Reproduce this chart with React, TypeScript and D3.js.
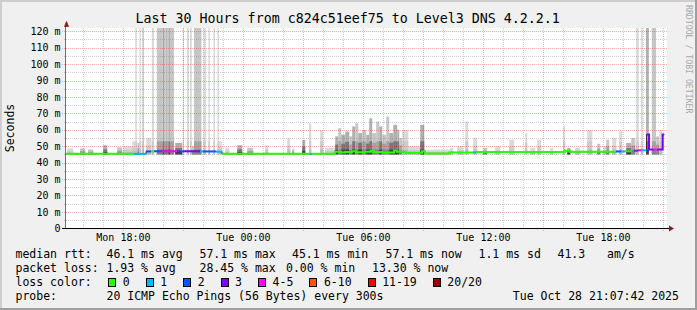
import React from 'react';
import * as d3 from 'd3';

// ---------- data ----------
const startHour = 15 + 7 / 60 + 42 / 3600; // Mon 15:07:42 (hours since Mon 00:00)
const endHour = startHour + 30;

const yTickValues = [0, 10, 20, 30, 40, 50, 60, 70, 80, 90, 100, 110, 120];
const yMinorValues = [5, 15, 25, 35, 45, 55, 65, 75, 85, 95, 105, 115];
const xLabelHours = [18, 24, 30, 36, 42];
const xLabelTexts = ['Mon 18:00', 'Tue 00:00', 'Tue 06:00', 'Tue 12:00', 'Tue 18:00'];

const lossColors = ['#26ff00', '#00b8ff', '#0059ff', '#7e00ff', '#ff00ff', '#ff5500', '#ff0000', '#a10000'];
const lossLabels = ['0', '1', '2', '3', '4-5', '6-10', '11-19', '20/20'];

// smoke columns whose max exceeds the graph: [start h, end h, tone]
const tallBars: [number, number, number][] = [
  [18.59, 18.67, 0], [18.8, 18.87, 0], [18.92, 19.03, 0], [19.42, 19.53, 0],
  [19.67, 19.97, 1], [19.97, 20.03, 2], [20.03, 20.12, 1], [20.12, 20.17, 2],
  [20.17, 20.25, 1], [20.25, 20.33, 2], [20.33, 20.53, 1],
  [20.97, 21.03, 0], [21.17, 21.28, 0], [21.33, 21.42, 0], [21.53, 21.9, 1],
  [22.0, 22.13, 0], [22.25, 22.33, 0], [22.5, 22.58, 0], [22.7, 22.78, 0],
  [43.63, 43.77, 0], [43.87, 43.97, 0], [44.13, 44.27, 2], [44.42, 44.63, 1],
];

// smoke spikes: [start h, end h, max ms, tone]
const smokeSpikes: [number, number, number, number][] = [
  [15.18, 15.49, 48.7, 0], [15.83, 16.09, 48.7, 1], [16.23, 16.49, 48.0, 1],
  [16.99, 17.19, 50.6, 2], [17.69, 17.94, 49.3, 1], [17.99, 18.44, 50.0, 0],
  [18.44, 18.59, 53.0, 0], [18.7, 18.8, 52.0, 1], [19.14, 19.39, 55.0, 0],
  [20.59, 20.94, 52.0, 2], [21.42, 21.53, 50.0, 1], [22.79, 22.94, 53.0, 0],
  [23.09, 23.29, 49.0, 0], [23.69, 23.94, 50.6, 2], [24.19, 24.49, 49.0, 1],
  [25.09, 25.24, 50.7, 0], [26.19, 26.34, 54.8, 0], [26.44, 26.54, 48.5, 1],
  [26.94, 27.09, 53.8, 2], [27.28, 27.39, 64.0, 0], [27.84, 27.99, 59.9, 0],
  [28.08, 28.59, 49.0, 0],
  [28.59, 28.74, 56.0, 2], [28.74, 28.89, 61.0, 1], [28.89, 29.09, 57.0, 2],
  [29.09, 29.29, 59.0, 2], [29.29, 29.44, 56.0, 1], [29.44, 29.59, 62.0, 2],
  [29.59, 29.74, 64.0, 1], [29.74, 29.94, 58.0, 2], [29.94, 30.14, 60.0, 1],
  [30.14, 30.29, 57.0, 2], [30.29, 30.44, 67.0, 2], [30.44, 30.64, 58.0, 1],
  [30.64, 30.79, 65.0, 1], [30.79, 30.94, 62.0, 2], [30.94, 31.14, 57.0, 1],
  [31.14, 31.29, 68.0, 1], [31.29, 31.49, 58.0, 2], [31.49, 31.69, 63.0, 2],
  [31.69, 31.79, 60.0, 2], [31.79, 31.94, 55.0, 1], [31.94, 32.24, 60.0, 0],
  [32.24, 32.84, 50.0, 0], [32.84, 33.04, 63.0, 2], [33.14, 34.34, 48.0, 0],
  [34.34, 34.49, 49.0, 0], [34.69, 34.99, 50.0, 0], [35.09, 35.24, 65.0, 0],
  [35.49, 35.69, 55.0, 0], [35.99, 36.19, 49.0, 1], [36.59, 36.84, 50.0, 0],
  [37.29, 37.54, 54.0, 0], [38.09, 38.19, 58.0, 0], [38.34, 38.59, 49.0, 0],
  [38.69, 38.89, 54.0, 0], [39.34, 39.49, 48.9, 0], [39.99, 40.09, 62.0, 0],
  [40.19, 40.34, 49.0, 2], [40.59, 40.84, 49.0, 0], [41.19, 41.44, 59.9, 0],
  [41.69, 41.84, 51.5, 1], [41.99, 42.14, 50.0, 0], [42.14, 42.29, 54.0, 1],
  [42.44, 42.64, 55.0, 0], [42.79, 42.94, 59.0, 0], [43.14, 43.39, 52.0, 2],
  [43.39, 43.59, 55.0, 1], [44.64, 44.79, 56.0, 1], [44.79, 44.94, 60.0, 0],
];

// median rtt: [segment end h, ms, loss class] (each segment starts at previous end)
const medianSegments: [number, number, number][] = [
  [18.53, 45.4, 0], [19.13, 45.3, 1], [19.38, 46.8, 2], [19.53, 46.8, 0],
  [19.93, 46.9, 2], [20.68, 46.9, 4], [20.83, 46.9, 3], [20.98, 46.8, 2],
  [21.83, 46.9, 3], [21.98, 46.8, 1], [22.63, 46.8, 2], [22.93, 46.7, 1],
  [27.33, 45.4, 0], [27.43, 45.3, 1], [28.58, 45.4, 0],
  [28.88, 46.6, 0], [29.08, 46.1, 0], [29.43, 46.4, 0], [29.63, 46.9, 0],
  [30.03, 46.3, 0], [30.38, 46.6, 0], [30.53, 47.3, 0], [30.93, 46.5, 0],
  [31.53, 46.2, 0], [31.68, 47.4, 0], [32.08, 46.6, 0], [32.93, 46.0, 0],
  [33.08, 47.0, 0], [34.3, 45.6, 0], [35.48, 46.2, 0], [35.63, 46.2, 1],
  [40.08, 46.4, 0], [40.33, 47.3, 0], [42.63, 46.6, 0], [42.88, 46.8, 2],
  [43.08, 46.8, 1], [43.43, 46.9, 0], [43.53, 47.3, 1], [43.63, 47.3, 6],
  [43.73, 47.3, 2], [43.88, 47.5, 4], [44.16, 47.5, 1], [44.28, 57.1, 3],
  [44.48, 48.0, 3], [44.68, 48.0, 4], [44.96, 48.0, 3], [45.04, 57.1, 3],
];

const rttLegend = ['median rtt:', '46.1 ms avg', '57.1 ms max', '45.1 ms min', '57.1 ms now', '1.1 ms sd', '41.3', 'am/s'];
const lossLegend = ['packet loss:', '1.93 % avg', '28.45 % max', '0.00 % min', '13.30 % now'];
const probeLegend = ['probe:', '20 ICMP Echo Pings (56 Bytes) every 300s', 'Tue Oct 28 21:07:42 2025'];
const titleText = 'Last 30 Hours from c824c51eef75 to Level3 DNS 4.2.2.1';

// ---------- layout ----------
const W = 697, H = 310;
const MONO = "'DejaVu Sans Mono', monospace";
const rttX = [15.5, 106.5, 199.5, 292, 385.5, 478.5, 557.5, 607];
const lossX = [15.5, 106.5, 199.5, 286, 372];
const probeX = [15.5, 106.5, 512.8];
const CH = 6.94;

const palettes = [
  ['#dadada', '#cccccc', '#bcbcbc'],
  ['#c6c6c6', '#a4a4a4', '#828282'],
  ['#b0b0b0', '#787878', '#404040'],
];

export default function App() {
  const x = d3.scaleLinear().domain([startHour, endHour]).range([66, 666]);
  const y = d3.scaleLinear().domain([0, 122]).range([228.3, 28]);
  const px = (v: number) => Math.round(v) + 0.5;
  const SMOKE_BASE = 45.0;

  const smokeRects: JSX.Element[] = [];
  const addColumn = (s: number, e: number, top: number, tone: number, key: string) => {
    const h = top - SMOKE_BASE;
    const layers = [top, SMOKE_BASE + Math.min(h * 0.55, 8), SMOKE_BASE + Math.min(h * 0.25, 3)];
    layers.forEach((t, i) => {
      smokeRects.push(
        <rect key={key + i} x={x(s)} width={Math.max(x(e) - x(s), 1)} y={y(t)} height={y(SMOKE_BASE) - y(t)} fill={palettes[tone][i]} />
      );
    });
  };
  smokeSpikes.forEach((d, i) => addColumn(d[0], d[1], d[2], d[3], 's' + i));
  tallBars.forEach((d, i) => addColumn(d[0], d[1], 125, d[2], 't' + i));

  // median segments
  const segs = medianSegments.map((d, i) => ({
    s: i === 0 ? startHour : medianSegments[i - 1][0],
    e: d[0], v: d[1], c: d[2],
  }));
  const line = d3.line<[number, number]>().x(d => x(d[0])).y(d => y(d[1]));
  const allPts: [number, number][] = [];
  segs.forEach(sg => { allPts.push([sg.s, sg.v]); allPts.push([sg.e, sg.v]); });
  const groups: { c: number; pts: [number, number][] }[] = [];
  segs.forEach(sg => {
    const last = groups[groups.length - 1];
    if (last && last.c === sg.c) { last.pts.push([sg.s, sg.v], [sg.e, sg.v]); }
    else groups.push({ c: sg.c, pts: [[sg.s, sg.v], [sg.e, sg.v]] });
  });

  const hourTicks = d3.range(Math.ceil(startHour), endHour, 1);

  // loss legend layout
  let cx = 108.3;
  const lossItems = lossLabels.map((lab, i) => {
    const item = { box: cx, text: cx + 15, lab, col: lossColors[i] };
    cx = cx + 15 + lab.length * CH + 15.5;
    return item;
  });

  return (
    <svg width={W} height={H} style={{ position: 'absolute', left: 0, top: 0, display: 'block' }} fontFamily={MONO}>
      <defs>
        <clipPath id="plotclip"><rect x={66} y={28} width={601} height={200.5} /></clipPath>
      </defs>
      <rect x={0} y={0} width={W} height={H} fill="#f0f0f0" />
      <rect x={0} y={0} width={W} height={2} fill="#cecece" />
      <rect x={0} y={0} width={2} height={H} fill="#cecece" />
      <rect x={0} y={H - 2} width={W} height={2} fill="#9e9e9e" />
      <rect x={W - 2} y={0} width={2} height={H} fill="#9e9e9e" />
      <rect x={66} y={28} width={601} height={200.5} fill="#ffffff" />

      <g clipPath="url(#plotclip)">{smokeRects}</g>

      {/* grid */}
      <g>
        {yMinorValues.map(v => (
          <line key={'ym' + v} x1={64} x2={668} y1={px(y(v))} y2={px(y(v))} stroke="rgba(120,120,120,0.35)" strokeDasharray="1,1" />
        ))}
        {hourTicks.filter(h => h % 3 !== 0).map(h => (
          <line key={'xm' + h} x1={px(x(h))} x2={px(x(h))} y1={28} y2={230} stroke="rgba(120,120,120,0.35)" strokeDasharray="1,1" />
        ))}
        {yTickValues.filter(v => v > 0).map(v => (
          <line key={'yM' + v} x1={62} x2={668} y1={px(y(v))} y2={px(y(v))} stroke="rgba(255,0,0,0.3)" strokeDasharray="1,1" />
        ))}
        {hourTicks.filter(h => h % 3 === 0).map(h => (
          <line key={'xM' + h} x1={px(x(h))} x2={px(x(h))} y1={28} y2={231} stroke="rgba(255,0,0,0.3)" strokeDasharray="1,1" />
        ))}
      </g>

      {/* median */}
      <path d={line(allPts) || ''} fill="none" stroke="#202020" strokeWidth={1} />
      {groups.map((g, i) => (
        <path key={'m' + i} d={line(g.pts) || ''} fill="none" stroke={lossColors[g.c]} strokeWidth={2} />
      ))}

      {/* axes */}
      <line x1={px(66) - 1} x2={px(66) - 1} y1={26} y2={229} stroke="#707070" strokeWidth={1} />
      <line x1={62} x2={669} y1={px(y(0))} y2={px(y(0))} stroke="#000" strokeWidth={1} />
      <path d="M64.5,26.5 L68.5,26.5 L66.5,21.5 Z" fill="#8b1a1a" stroke="#8b1a1a" strokeWidth={0.8} />
      <path d={`M669,${px(y(0)) - 3} L669,${px(y(0)) + 3} L674,${px(y(0))} Z`} fill="#8b1a1a" />

      {/* y labels */}
      {yTickValues.map(v => (
        <text key={'yl' + v} x={60.5} y={y(v) + 3.7} fontSize={10} textAnchor="end" fill="#000">{v === 0 ? '0' : `${v} m`}</text>
      ))}
      {/* x labels */}
      {xLabelHours.map((h, i) => (
        <text key={'xl' + h} x={x(h)} y={241} fontSize={10} textAnchor="middle" fill="#000">{xLabelTexts[i]}</text>
      ))}

      <text x={347.7} y={23.3} fontSize={13.3} textAnchor="middle" fill="#000">{titleText}</text>
      <text transform="translate(14,128) rotate(-90)" fontSize={11.5} textAnchor="middle" fill="#000">Seconds</text>
      <text transform="translate(686,5) rotate(90)" fontSize={8.2} fill="#a8a8a8">RRDTOOL / TOBI OETIKER</text>

      {/* legend */}
      {rttLegend.map((t, i) => (
        <text key={'r' + i} x={rttX[i]} y={257.5} fontSize={11.5} fill="#000" style={{ whiteSpace: 'pre' }}>{t}</text>
      ))}
      {lossLegend.map((t, i) => (
        <text key={'l' + i} x={lossX[i]} y={271.5} fontSize={11.5} fill="#000" style={{ whiteSpace: 'pre' }}>{t}</text>
      ))}
      <text x={15.5} y={285.5} fontSize={11.5} fill="#000">loss color:</text>
      {lossItems.map((it, i) => (
        <g key={'lc' + i}>
          <rect x={Math.round(it.box) + 0.5} y={278.5} width={7} height={8} fill={it.col} stroke="#000" strokeWidth={1} />
          <text x={it.text - 0.5} y={285.5} fontSize={11.5} fill="#000">{it.lab}</text>
        </g>
      ))}
      {probeLegend.map((t, i) => (
        <text key={'p' + i} x={probeX[i]} y={299.5} fontSize={11.5} fill="#000" style={{ whiteSpace: 'pre' }}>{t}</text>
      ))}
    </svg>
  );
}
